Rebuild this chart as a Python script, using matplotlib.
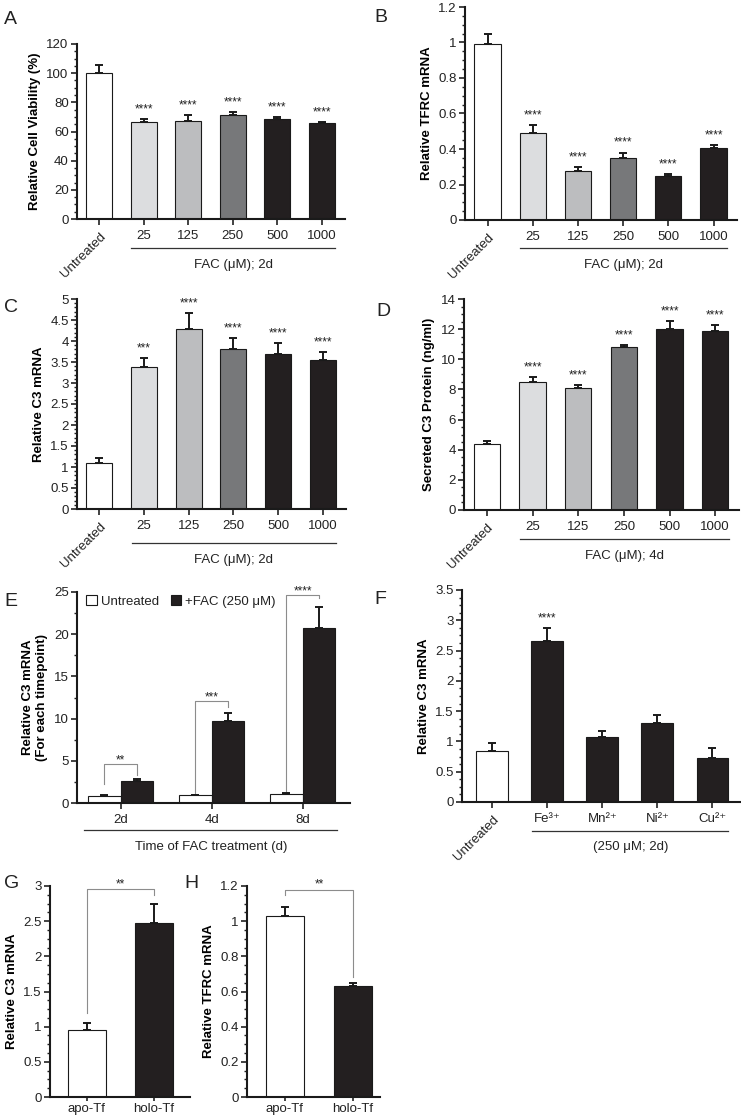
import matplotlib
matplotlib.use("Agg")
import matplotlib.pyplot as plt
from matplotlib.ticker import MultipleLocator, AutoMinorLocator, FuncFormatter
from matplotlib.patches import Patch
import numpy as np

plt.rcParams['font.family'] = ['Liberation Sans', 'DejaVu Sans']
plt.rcParams['text.color'] = '#222222'
plt.rcParams['xtick.color'] = '#222222'
plt.rcParams['ytick.color'] = '#222222'

# ---- data ----
dose_labels = ['Untreated', '25', '125', '250', '500', '1000']
dose_colors = ['white', '#dcdddf', '#bcbdbf', '#77787a', '#231f20', '#231f20']

viability = [100, 66.5, 67.2, 71.3, 68.4, 65.8]
viability_err = [5.6, 1.9, 4.1, 2.0, 1.5, 0.8]
viability_sig = ['', '****', '****', '****', '****', '****']

tfrc_fac = [0.99, 0.49, 0.276, 0.35, 0.25, 0.405]
tfrc_fac_err = [0.06, 0.045, 0.02, 0.03, 0.01, 0.015]
tfrc_fac_sig = ['', '****', '****', '****', '****', '****']

c3_fac = [1.10, 3.38, 4.28, 3.81, 3.69, 3.55]
c3_fac_err = [0.11, 0.22, 0.39, 0.26, 0.26, 0.19]
c3_fac_sig = ['', '***', '****', '****', '****', '****']

c3_protein = [4.38, 8.49, 8.10, 10.82, 12.0, 11.87]
c3_protein_err = [0.2, 0.33, 0.19, 0.13, 0.54, 0.41]
c3_protein_sig = ['', '****', '****', '****', '****', '****']

timepoints = ['2d', '4d', '8d']
time_untreated = [0.85, 0.9, 1.05]
time_untreated_err = [0.1, 0.05, 0.1]
time_fac = [2.65, 9.7, 20.7]
time_fac_err = [0.2, 1.0, 2.5]
time_sig = ['**', '***', '****']
time_bracket_top = [4.6, 12.1, 24.6]
time_bracket_left = [2.25, 1.1, 1.3]
time_bracket_right = [3.3, 11.4, 24.3]

metal_labels = ['Untreated', 'Fe³⁺', 'Mn²⁺', 'Ni²⁺', 'Cu²⁺']
metal_colors = ['white', '#231f20', '#231f20', '#231f20', '#231f20']
metal_c3 = [0.84, 2.66, 1.07, 1.30, 0.73]
metal_c3_err = [0.13, 0.21, 0.10, 0.14, 0.16]
metal_sig = ['', '****', '', '', '']

tf_labels = ['apo-Tf', 'holo-Tf']
tf_colors = ['white', '#231f20']
tf_c3 = [0.95, 2.47]
tf_c3_err = [0.1, 0.27]
tf_tfrc = [1.03, 0.63]
tf_tfrc_err = [0.05, 0.02]

W, H = 741, 1116
fig = plt.figure(figsize=(W / 100, H / 100), dpi=100)

EDGE = '#1a1a1a'
STAR_SIZE = 8.5


def px_axes(left, top, right, bottom):
    return fig.add_axes([left / W, 1 - bottom / H, (right - left) / W, (bottom - top) / H])


def style_axes(ax, ymax, major, minor_n, ylabel):
    for s in ['top', 'right']:
        ax.spines[s].set_visible(False)
    for s in ['left', 'bottom']:
        ax.spines[s].set_linewidth(1.5)
        ax.spines[s].set_color(EDGE)
    ax.set_ylim(0, ymax)
    ax.yaxis.set_major_locator(MultipleLocator(major))
    ax.yaxis.set_minor_locator(AutoMinorLocator(minor_n))
    ax.yaxis.set_major_formatter(FuncFormatter(lambda v, p: f'{v:g}'))
    ax.tick_params(axis='both', which='major', direction='out', length=4, width=1.2,
                   labelsize=9.5, pad=2)
    ax.tick_params(axis='y', which='minor', direction='out', length=2.5, width=1)
    ax.tick_params(axis='x', which='minor', bottom=False)
    ax.tick_params(axis='x', which='major', pad=4)
    ax.set_ylabel(ylabel, fontsize=9.5, fontweight='bold')


def draw_bars(ax, x, vals, errs, colors, width):
    ax.bar(x, vals, width, color=colors, edgecolor=EDGE, linewidth=0.8, zorder=2)
    ax.errorbar(x, vals, yerr=[np.zeros(len(vals)), errs], fmt='none', ecolor=EDGE,
                elinewidth=1.4, capsize=2.6, capthick=1.4, zorder=3)


def draw_stars(ax, x, vals, errs, sig):
    for xi, v, e, s in zip(x, vals, errs, sig):
        if s:
            ax.annotate(s, (xi, v + e), xytext=(0, 2.7), textcoords='offset points',
                        ha='center', va='bottom', fontsize=STAR_SIZE)


def group_line(ax, x0, x1, y_line, label, y_label):
    tr = ax.get_xaxis_transform()
    ax.plot([x0, x1], [y_line, y_line], transform=tr, color='#333333', lw=0.9, clip_on=False)
    ax.text((x0 + x1) / 2, y_label, label, transform=tr, ha='center', va='center', fontsize=9.5)


def set_xlabels(ax, x, labels, rotate_first):
    ax.set_xticks(x)
    ax.set_xticklabels(labels)
    if rotate_first:
        lab = ax.get_xticklabels()[0]
        lab.set_rotation(45)
        lab.set_ha('right')
        lab.set_rotation_mode('anchor')


def dose_panel(box, vals, errs, sig, ymax, major, minor_n, ylabel, group, gy):
    ax = px_axes(*box)
    x = np.arange(len(dose_labels))
    draw_bars(ax, x, vals, errs, dose_colors, 0.58)
    draw_stars(ax, x, vals, errs, sig)
    style_axes(ax, ymax, major, minor_n, ylabel)
    ax.set_xlim(-0.5, 5.52)
    set_xlabels(ax, x, dose_labels, True)
    group_line(ax, 0.72, 5.3, gy[0], group, gy[1])
    return ax


def bracket(ax, xl, xr, top, left_end, right_end, label, offset):
    ax.plot([xl, xl, xr, xr], [left_end, top, top, right_end],
            color='#8c8c8c', lw=0.8, zorder=1, clip_on=False)
    ax.annotate(label, ((xl + xr) / 2, top), xytext=(0, offset), textcoords='offset points',
                ha='center', va='bottom', fontsize=STAR_SIZE, annotation_clip=False)


# A
dose_panel((77, 44, 345, 219), viability, viability_err, viability_sig, 120, 20, 4,
           'Relative Cell Viability (%)', 'FAC (μM); 2d', (-0.166, -0.263))
# B
dose_panel((465, 7, 737, 220), tfrc_fac, tfrc_fac_err, tfrc_fac_sig, 1.2, 0.2, 4,
           'Relative TFRC mRNA', 'FAC (μM); 2d', (-0.131, -0.211))
# C
dose_panel((77, 299, 346, 509), c3_fac, c3_fac_err, c3_fac_sig, 5, 0.5, 5,
           'Relative C3 mRNA', 'FAC (μM); 2d', (-0.162, -0.245))
# D
dose_panel((464, 299, 739, 510), c3_protein, c3_protein_err, c3_protein_sig, 14, 2, 4,
           'Secreted C3 Protein (ng/ml)', 'FAC (μM); 4d', (-0.137, -0.218))

# E
ax = px_axes(77, 592, 350, 803)
xt = np.arange(len(timepoints))
bw = 0.36
draw_bars(ax, xt - bw / 2, time_untreated, time_untreated_err, 'white', bw)
draw_bars(ax, xt + bw / 2, time_fac, time_fac_err, '#231f20', bw)
for i, s in enumerate(time_sig):
    bracket(ax, xt[i] - bw / 2, xt[i] + bw / 2, time_bracket_top[i],
            time_bracket_left[i], time_bracket_right[i], s, -1.5)
style_axes(ax, 25, 5, 2, 'Relative C3 mRNA\n(For each timepoint)')
ax.set_xlim(-0.48, 2.52)
set_xlabels(ax, xt, timepoints, False)
group_line(ax, -0.40, 2.38, -0.128, 'Time of FAC treatment (d)', -0.209)
handles = [Patch(facecolor='white', edgecolor=EDGE, linewidth=0.8),
           Patch(facecolor='#231f20', edgecolor=EDGE, linewidth=0.8)]
ax.legend(handles, ['Untreated', '+FAC (250 μM)'], loc='upper left', ncol=2, frameon=False,
          fontsize=9.5, handlelength=0.8, handleheight=0.8, handletextpad=0.3,
          columnspacing=0.9, bbox_to_anchor=(0.0, 1.03), borderaxespad=0.3)

# F
ax = px_axes(462, 590, 740, 802)
xf = np.arange(len(metal_labels))
draw_bars(ax, xf, metal_c3, metal_c3_err, metal_colors, 0.58)
draw_stars(ax, xf, metal_c3, metal_c3_err, metal_sig)
style_axes(ax, 3.5, 0.5, 4, 'Relative C3 mRNA')
ax.set_xlim(-0.55, 4.5)
set_xlabels(ax, xf, metal_labels, True)
group_line(ax, 0.73, 4.29, -0.137, '(250 μM; 2d)', -0.212)

# G
ax = px_axes(50, 886, 190, 1097)
xg = np.arange(len(tf_labels))
draw_bars(ax, xg, tf_c3, tf_c3_err, tf_colors, 0.57)
bracket(ax, 0, 1, 2.96, 1.19, 2.87, '**', -1)
style_axes(ax, 3, 0.5, 4, 'Relative C3 mRNA')
ax.set_xlim(-0.55, 1.54)
set_xlabels(ax, xg, tf_labels, False)
ax.tick_params(axis='x', which='major', length=3, pad=1)

# H
ax = px_axes(247, 886, 380, 1097)
draw_bars(ax, xg, tf_tfrc, tf_tfrc_err, tf_colors, 0.57)
bracket(ax, 0, 1, 1.18, 1.15, 0.68, '**', -1)
style_axes(ax, 1.2, 0.2, 4, 'Relative TFRC mRNA')
ax.set_xlim(-0.56, 1.4)
set_xlabels(ax, xg, tf_labels, False)
ax.tick_params(axis='x', which='major', length=3, pad=1)

# panel letters
for letter, lx, ly in [('A', 4, 19), ('B', 374, 17), ('C', 4, 307), ('D', 376, 311),
                       ('E', 4, 601), ('F', 374, 599), ('G', 4, 883), ('H', 184, 883)]:
    fig.text(lx / W, 1 - ly / H, letter, fontsize=14, va='center', ha='left', color='#222222')

fig.savefig('out.png', dpi=100)
